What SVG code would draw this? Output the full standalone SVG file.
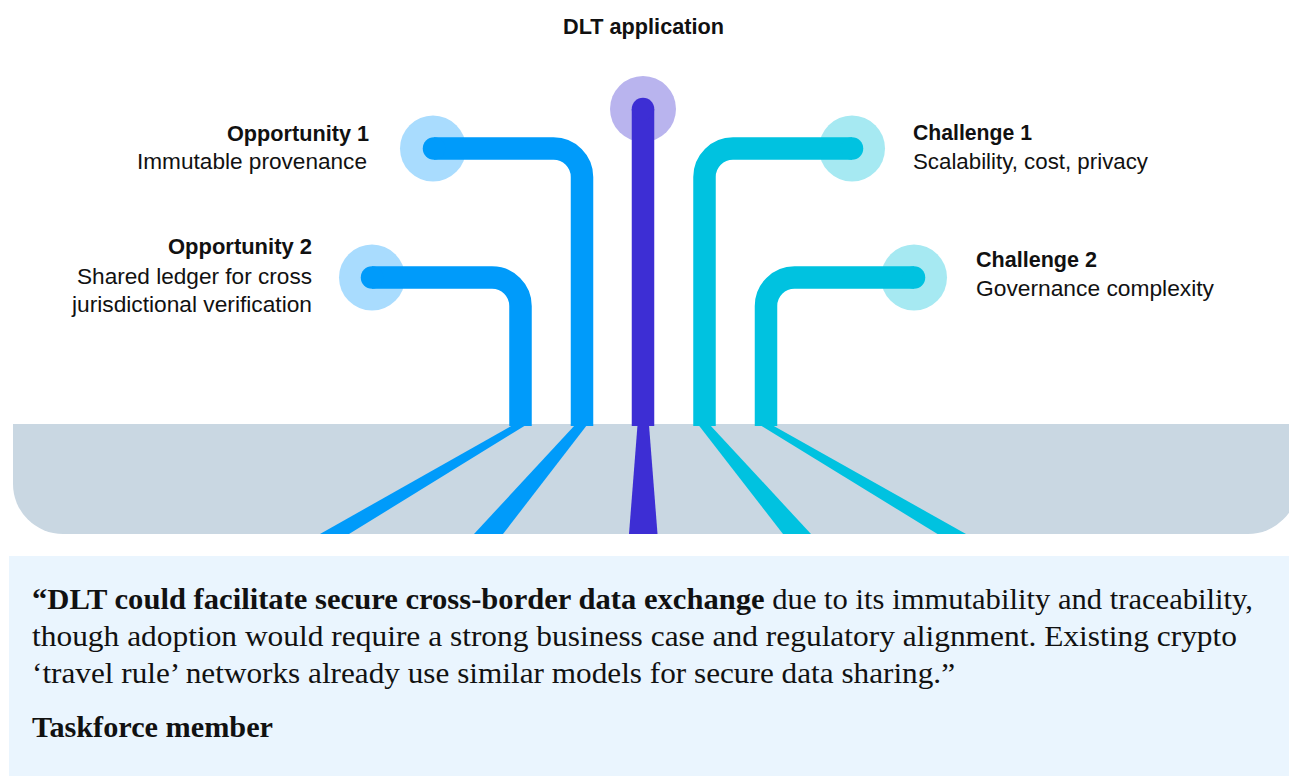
<svg xmlns="http://www.w3.org/2000/svg" width="1289" height="776" viewBox="0 0 1289 776">
<style>
  .lbl { font-family: "Liberation Sans", Arial, sans-serif; font-size: 22px; fill: #111; }
  .b { font-weight: bold; }
  .q { font-family: "Liberation Serif", "Times New Roman", serif; font-size: 29px; fill: #111; }
  .pipe { fill: none; stroke-width: 22.5; stroke-linecap: butt; }
  .blue { stroke: #009bfa; }
  .cyan { stroke: #00c2e0; }
  .purple { stroke: #3d2ed4; }
  .cb { fill: #a9dcfe; }
  .cc { fill: #a6e9f2; }
  .cp { fill: #b9b4ee; }
</style>
<rect x="0" y="0" width="1289" height="776" fill="#ffffff"/>

<g id="ground">
  <path d="M13 424 H1298 V484 A50 50 0 0 1 1248 534 H63 A50 50 0 0 1 13 484 Z" fill="#c9d7e2"/>
  <polygon points="513,425 526,425 349,534 320,534" fill="#009bfa"/>
  <polygon points="575,425 587,425 503,534 474,534" fill="#009bfa"/>
  <polygon points="637.5,425 649,425 657.5,534 629,534" fill="#3d2ed4"/>
  <polygon points="698.5,425 710,425 811,534 783,534" fill="#00c2e0"/>
  <polygon points="760,425 772,425 966,534 937.5,534" fill="#00c2e0"/>
</g>

<g id="circles">
  <circle cx="433" cy="148.5" r="33" class="cb"/>
  <circle cx="372" cy="277.5" r="33" class="cb"/>
  <circle cx="643" cy="109" r="33" class="cp"/>
  <circle cx="852" cy="148.5" r="33" class="cc"/>
  <circle cx="914" cy="277.5" r="33" class="cc"/>
</g>

<g id="connectors">
  <path class="pipe blue" d="M434 148.5 H553.5 A28.5 28.5 0 0 1 582 177 V426"/>
  <circle cx="434" cy="148.5" r="11.25" fill="#009bfa"/>
  <path class="pipe blue" d="M372 277.5 H492 A28.5 28.5 0 0 1 520.5 306 V426"/>
  <circle cx="372" cy="277.5" r="11.25" fill="#009bfa"/>
  <path class="pipe purple" d="M643 109 V426"/>
  <circle cx="643" cy="109" r="11.25" fill="#3d2ed4"/>
  <path class="pipe cyan" d="M852 148.5 H733 A28.5 28.5 0 0 0 704.5 177 V426"/>
  <circle cx="852" cy="148.5" r="11.25" fill="#00c2e0"/>
  <path class="pipe cyan" d="M914 277.5 H794.5 A28.5 28.5 0 0 0 766 306 V426"/>
  <circle cx="914" cy="277.5" r="11.25" fill="#00c2e0"/>
</g>

<g id="dlt-application">
  <text class="lbl b" x="643.5" y="34" text-anchor="middle" textLength="161" lengthAdjust="spacingAndGlyphs">DLT application</text>
</g>

<g id="opportunity-1">
  <text class="lbl b" x="369" y="141" text-anchor="end" textLength="142" lengthAdjust="spacingAndGlyphs">Opportunity 1</text>
  <text class="lbl" x="367" y="169" text-anchor="end" textLength="230" lengthAdjust="spacingAndGlyphs">Immutable provenance</text>
</g>

<g id="opportunity-2">
  <text class="lbl b" x="312" y="254" text-anchor="end" textLength="144" lengthAdjust="spacingAndGlyphs">Opportunity 2</text>
  <text class="lbl" x="312" y="284" text-anchor="end" textLength="235" lengthAdjust="spacingAndGlyphs">Shared ledger for cross</text>
  <text class="lbl" x="312" y="312" text-anchor="end" textLength="240" lengthAdjust="spacingAndGlyphs">jurisdictional verification</text>
</g>

<g id="challenge-1">
  <text class="lbl b" x="913" y="140" textLength="119" lengthAdjust="spacingAndGlyphs">Challenge 1</text>
  <text class="lbl" x="913" y="169" textLength="235" lengthAdjust="spacingAndGlyphs">Scalability, cost, privacy</text>
</g>

<g id="challenge-2">
  <text class="lbl b" x="976" y="267" textLength="121" lengthAdjust="spacingAndGlyphs">Challenge 2</text>
  <text class="lbl" x="976" y="296" textLength="238" lengthAdjust="spacingAndGlyphs">Governance complexity</text>
</g>

<g id="quote">
  <rect x="9" y="556" width="1290" height="230" fill="#eaf5fe"/>
  <text class="q" x="32" y="609" textLength="1221" lengthAdjust="spacingAndGlyphs"><tspan font-weight="bold">“DLT could facilitate secure cross-border data exchange</tspan> due to its immutability and traceability,</text>
  <text class="q" x="32" y="646" textLength="1205" lengthAdjust="spacingAndGlyphs">though adoption would require a strong business case and regulatory alignment. Existing crypto</text>
  <text class="q" x="32" y="683" textLength="923" lengthAdjust="spacingAndGlyphs">‘travel rule’ networks already use similar models for secure data sharing.”</text>
  <text class="q" x="32" y="737" font-weight="bold" textLength="241" lengthAdjust="spacingAndGlyphs">Taskforce member</text>
</g>
</svg>
